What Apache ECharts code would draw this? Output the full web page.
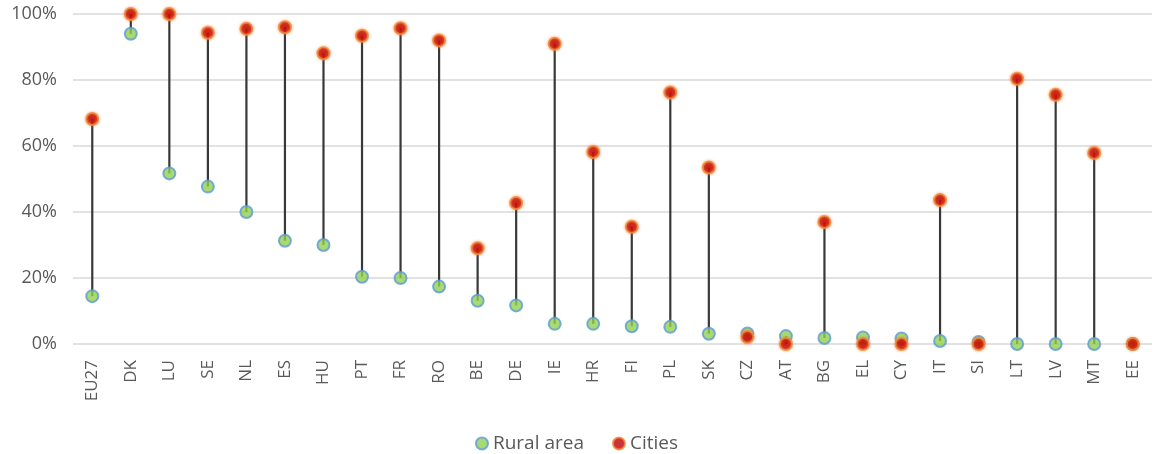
<!DOCTYPE html>
<html>
<head>
<meta charset="utf-8">
<script src="https://cdn.jsdelivr.net/npm/echarts@6/dist/echarts.min.js"></script>
<style>
  html, body { margin: 0; padding: 0; background: #ffffff; }
  #chart { width: 1153px; height: 454px; }
</style>
</head>
<body>
<div id="chart"></div>
<script>
// Share (%) per country: rural areas vs cities
const categories = ['EU27','DK','LU','SE','NL','ES','HU','PT','FR','RO','BE','DE','IE','HR','FI','PL','SK','CZ','AT','BG','EL','CY','IT','SI','LT','LV','MT','EE'];
const rural  = [14.5, 94.0, 51.7, 47.7, 40.0, 31.3, 30.0, 20.4, 20.0, 17.4, 13.1, 11.7, 6.1, 6.1, 5.4, 5.2, 3.1, 3.2, 2.4, 1.8, 2.0, 1.7, 0.9, 0.6, 0, 0, 0, 0];
const cities = [68.2, 100, 100, 94.3, 95.5, 96.0, 88.1, 93.4, 95.7, 92.0, 29.0, 42.7, 91.0, 58.2, 35.5, 76.2, 53.5, 2.1, 0, 37.0, 0, 0, 43.6, 0, 80.4, 75.5, 57.9, 0];
const yTicks = { min: 0, max: 100, interval: 20 };

const FONT = 'Open Sans';
const TEXT = '#595959';

// connector rows: [category index, rural, cities]
const connectors = categories.map((c, i) => [i, rural[i], cities[i]]);

const chart = echarts.init(document.getElementById('chart'), null, { renderer: 'canvas' });
chart.setOption({
  animation: false,
  backgroundColor: '#ffffff',
  textStyle: { fontFamily: FONT },
  grid: { left: 73, right: 1, top: 14, bottom: 110, containLabel: false },
  legend: {
    top: 429,
    left: 'center',
    itemWidth: 12,
    itemHeight: 12,
    itemGap: 28,
    textStyle: { color: TEXT, fontSize: 19, fontFamily: FONT },
    data: [
      { name: 'Rural area', icon: 'circle' },
      { name: 'Cities', icon: 'circle' }
    ]
  },
  xAxis: {
    type: 'category',
    data: categories,
    boundaryGap: true,
    axisLine: { show: false },
    axisTick: { show: false },
    axisLabel: { rotate: 90, margin: 16, color: TEXT, fontSize: 17, fontFamily: FONT, interval: 0 },
    splitLine: { show: false }
  },
  yAxis: {
    type: 'value',
    min: yTicks.min,
    max: yTicks.max,
    interval: yTicks.interval,
    axisLine: { show: false },
    axisTick: { show: false },
    axisLabel: { formatter: '{value}%', margin: 16, color: TEXT, fontSize: 18, fontFamily: FONT },
    splitLine: { lineStyle: { color: '#d9d9d9', width: 1.5 } }
  },
  series: [
    {
      name: 'range',
      type: 'custom',
      z: 1,
      silent: true,
      data: connectors,
      encode: { x: 0, y: [1, 2] },
      renderItem: function (params, api) {
        const a = api.coord([api.value(0), api.value(1)]);
        const b = api.coord([api.value(0), api.value(2)]);
        return {
          type: 'line',
          shape: { x1: a[0], y1: a[1], x2: b[0], y2: b[1] },
          style: { stroke: '#383838', lineWidth: 2.2 }
        };
      }
    },
    {
      name: 'Rural area',
      type: 'scatter',
      z: 2,
      symbol: 'circle',
      symbolSize: 12,
      data: rural,
      itemStyle: { color: '#92d050', borderColor: '#5b9bd5', borderWidth: 2 }
    },
    {
      name: 'Cities',
      type: 'scatter',
      z: 3,
      symbol: 'circle',
      symbolSize: 12,
      data: cities,
      itemStyle: {
        color: '#c00000',
        borderColor: '#f08a3c',
        borderWidth: 2,
        shadowBlur: 3,
        shadowColor: 'rgba(240,130,50,0.7)'
      }
    }
  ]
});
</script>
</body>
</html>
